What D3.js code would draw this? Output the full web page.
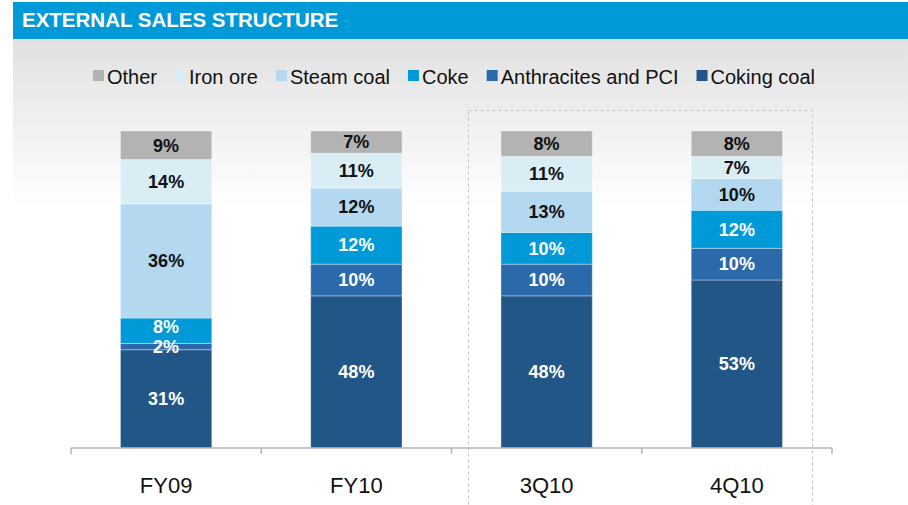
<!DOCTYPE html>
<html>
<head>
<meta charset="utf-8">
<script src="https://cdn.jsdelivr.net/npm/d3@7"></script>
<style>
  body { margin: 0; background: #fff; }
  svg { display: block; font-family: "Liberation Sans", Arial, sans-serif; }
</style>
</head>
<body>
<svg id="chart" width="908" height="505"></svg>
<script>
// données (%)
const periods = ["FY09", "FY10", "3Q10", "4Q10"];
const series = ["Coking coal", "Anthracites and PCI", "Coke", "Steam coal", "Iron ore", "Other"];
const cokingCoal = [31, 48, 48, 53];
const anthracites = [2, 10, 10, 10];
const coke = [8, 12, 10, 12];
const steamCoal = [36, 12, 13, 10];
const ironOre = [14, 11, 11, 7];
const other = [9, 7, 8, 8];
const legendOrder = ["Other", "Iron ore", "Steam coal", "Coke", "Anthracites and PCI", "Coking coal"];

const values = [cokingCoal, anthracites, coke, steamCoal, ironOre, other];
const rows = periods.map((p, i) => {
    const r = {period: p};
    series.forEach((s, j) => r[s] = values[j][i]);
    return r;
});

const color = d3.scaleOrdinal(series, ["#215687", "#2a6aab", "#009ad8", "#b3d8f0", "#daedf5", "#b3b3b3"]);
const darkText = new Set(["Steam coal", "Iron ore", "Other"]);

const svg = d3.select("#chart");

// fond dégradé
const defs = svg.append("defs");
const grad = defs.append("linearGradient").attr("id", "bg").attr("x1", 0).attr("y1", 0).attr("x2", 0).attr("y2", 1);
grad.append("stop").attr("offset", 0).attr("stop-color", "#e1e1e1");
grad.append("stop").attr("offset", 1).attr("stop-color", "#ffffff");
svg.append("rect").attr("x", 13).attr("y", 38).attr("width", 895).attr("height", 170).attr("fill", "url(#bg)");

// bandeau titre
svg.append("rect").attr("x", 13).attr("y", 2).attr("width", 895).attr("height", 37).attr("fill", "#009ad8");
svg.append("text").attr("x", 22).attr("y", 27)
    .attr("fill", "#fff").attr("font-weight", "bold").attr("font-size", 20.5)
    .text("EXTERNAL SALES STRUCTURE");

// échelles
const x = d3.scaleBand().domain(periods).range([71, 832]).paddingInner(0.52).paddingOuter(0.26);
const xb = d3.scaleBand().domain(periods).range([71, 832]).padding(0);
const y = d3.scaleLinear().domain([0, 100]).range([448, 131]);

// cadre pointillé des trimestres
svg.append("rect")
    .attr("x", 468.5).attr("y", 110.5).attr("width", 344).attr("height", 420)
    .attr("fill", "none").attr("stroke", "#c4c4c4").attr("stroke-dasharray", "3,3");

const stacked = d3.stack().keys(series)(rows);
const segs = stacked.flatMap(layer => layer.map(v => Object.assign(v, {key: layer.key})));

// barres
svg.append("g").selectAll("rect")
    .data(segs)
    .enter().append("rect")
    .attr("x", d => x(d.data.period))
    .attr("y", d => y(d[1]))
    .attr("width", x.bandwidth())
    .attr("height", d => y(d[0]) - y(d[1]))
    .attr("fill", d => color(d.key))
    .attr("stroke", "rgba(255,255,255,0.35)")
    .attr("stroke-width", 1);

// petit décalage vers le haut si le segment du dessous est très mince
function nudge(d) {
    const k = series.indexOf(d.key);
    if (k === 0) return 0;
    return d.data[series[k - 1]] < 4 ? -4 : 0;
}

// étiquettes (au-dessus de toutes les barres)
svg.append("g").selectAll("text")
    .data(segs)
    .enter().append("text")
    .attr("x", d => x(d.data.period) + x.bandwidth() / 2)
    .attr("y", d => (y(d[0]) + y(d[1])) / 2 + nudge(d))
    .attr("dy", "0.35em")
    .attr("text-anchor", "middle")
    .attr("font-weight", "bold")
    .attr("font-size", 18)
    .attr("fill", d => darkText.has(d.key) ? "#111" : "#fff")
    .text(d => (d[1] - d[0]) + "%");

// axe
const axis = svg.append("g").attr("transform", "translate(0,448)")
    .call(d3.axisBottom(x).tickSize(0).tickPadding(29));
axis.select(".domain").attr("stroke", "#b5b5b5").attr("stroke-width", 1.5).attr("d", "M71,0H832");
axis.selectAll(".tick text").attr("font-size", 22).attr("fill", "#111").attr("font-family", "Liberation Sans, Arial, sans-serif");

const bounds = periods.map(p => xb(p)).concat([xb.range()[1]]);
axis.selectAll(".bound").data(bounds).enter().append("line")
    .attr("class", "bound")
    .attr("x1", d => d).attr("x2", d => d)
    .attr("y1", 0).attr("y2", 6)
    .attr("stroke", "#b5b5b5").attr("stroke-width", 1.5);

// légende
const legend = svg.append("g").attr("font-size", 20).attr("fill", "#111");
let lx = 0;
legendOrder.forEach(name => {
    const g = legend.append("g").attr("transform", `translate(${lx},0)`);
    g.append("rect").attr("x", 0).attr("y", -7).attr("width", 11).attr("height", 11).attr("fill", color(name));
    const t = g.append("text").attr("x", 14).attr("y", 0).attr("dy", "0.35em").text(name);
    lx += 14 + t.node().getComputedTextLength() + 18;
});
lx -= 18;
legend.attr("transform", `translate(${454 - lx / 2},77)`);
</script>
</body>
</html>
